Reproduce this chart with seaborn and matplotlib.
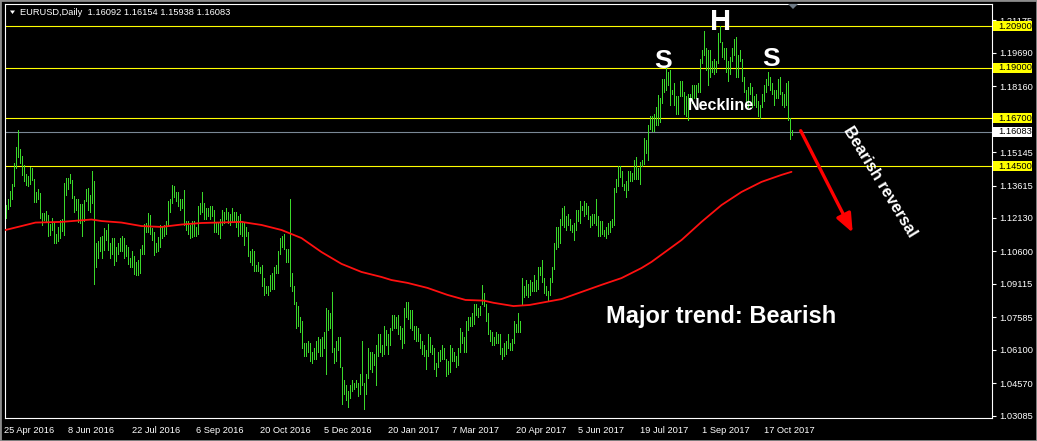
import numpy as np
import matplotlib
matplotlib.use('Agg')
import matplotlib.pyplot as plt
import matplotlib.transforms as mtransforms
from matplotlib.patches import Rectangle, Polygon
import seaborn as sns

# EURUSD daily bars, 25 Apr 2016 .. 30 Oct 2017, high / low in pips (11274 -> 1.1274)
hi_2016 = [
    11274, 11302, 11337, 11370, 11463,  # Apr
    11536, 11616, 11530, 11497, 11456, 11416, 11404, 11446, 11442, 11389, 11330, 11345, 11325, 11234, 11236,
    11245, 11227, 11186, 11215, 11192, 11140, 11173,  # May
    11205, 11208, 11374, 11395, 11394, 11416, 11388, 11313, 11300, 11298, 11279, 11275, 11297, 11347, 11350,
    11320, 11428, 11380, 11098, 11107, 11128, 11130,  # Jun
    11165, 11160, 11187, 11100, 11120, 11120, 11080, 11100, 11120, 11130, 11120, 11090, 11080, 11030, 11060,
    11040, 11010, 11020, 11070, 11090, 11185,  # Jul
    11190, 11235, 11225, 11165, 11150, 11100, 11125, 11180, 11170, 11180, 11200, 11290, 11300, 11366, 11360,
    11330, 11330, 11300, 11300, 11340, 11200, 11200, 11180,  # Aug
    11200, 11200, 11170, 11270, 11280, 11330, 11280, 11260, 11260, 11270, 11270, 11250, 11190, 11190, 11210,
    11250, 11240, 11260, 11240, 11230, 11260, 11240,  # Sep
    11240, 11220, 11230, 11200, 11190, 11170, 11150, 11060, 11070, 11060, 11000, 11010, 10990, 11000, 10940,
    10900, 10900, 10950, 10960, 10990, 11000,  # Oct
    11060, 11120, 11130, 11140, 11070, 11070, 11300, 10960, 10900, 10830, 10810, 10760, 10740, 10640, 10640,
    10650, 10640, 10600, 10620, 10650, 10670, 10660,  # Nov
    10670, 10690, 10800, 10790, 10780, 10874, 10620, 10650, 10670, 10670, 10530, 10470, 10450, 10420, 10450,
    10470, 10460, 10470, 10460, 10500, 10650,  # Dec
]
lo_2016 = [
    11212, 11255, 11267, 11300, 11358,
    11440, 11490, 11465, 11410, 11383, 11364, 11360, 11368, 11385, 11288, 11286, 11300, 11214, 11182, 11203,
    11198, 11130, 11136, 11157, 11099, 11100, 11109,
    11123, 11152, 11134, 11318, 11346, 11371, 11306, 11241, 11250, 11194, 11190, 11131, 11200, 11290, 11250,
    11241, 11280, 10912, 10988, 11030, 11060, 11030,
    11065, 11110, 11065, 11028, 11046, 10998, 11018, 11050, 11060, 11060, 11030, 11040, 11001, 10990, 10990,
    10955, 10950, 10950, 10960, 11050, 11050,
    11150, 11148, 11140, 11110, 11045, 11058, 11060, 11080, 11120, 11130, 11140, 11180, 11240, 11280, 11310,
    11290, 11270, 11250, 11260, 11180, 11160, 11140, 11120,
    11125, 11130, 11130, 11140, 11230, 11240, 11210, 11210, 11220, 11210, 11220, 11150, 11150, 11140, 11120,
    11180, 11190, 11210, 11190, 11180, 11200, 11200,
    11170, 11130, 11140, 11130, 11090, 11130, 11040, 11010, 11000, 10970, 10970, 10970, 10960, 10900, 10860,
    10870, 10860, 10880, 10890, 10890, 10960,
    10960, 11050, 11080, 11070, 11010, 11010, 10900, 10880, 10820, 10710, 10720, 10690, 10620, 10580, 10580,
    10600, 10560, 10550, 10570, 10570, 10600, 10580,
    10580, 10620, 10500, 10700, 10710, 10600, 10550, 10560, 10610, 10530, 10360, 10410, 10380, 10350, 10390,
    10420, 10430, 10440, 10400, 10410, 10450,
]
hi_2017 = [
    10460, 10500, 10620, 10600, 10600, 10590, 10630, 10680, 10680, 10630, 10720, 10700, 10680, 10710, 10770,
    10770, 10760, 10770, 10720, 10710, 10800,  # Jan
    10830, 10830, 10790, 10790, 10720, 10720, 10710, 10680, 10650, 10630, 10610, 10680, 10670, 10630, 10620,
    10550, 10600, 10610, 10630, 10620,  # Feb
    10570, 10560, 10630, 10620, 10600, 10580, 10620, 10710, 10690, 10670, 10740, 10760, 10760, 10780, 10820,
    10820, 10800, 10810, 10906, 10870, 10820, 10780, 10700,  # Mar
    10690, 10670, 10690, 10680, 10680, 10620, 10640, 10650, 10680, 10640, 10660, 10740, 10730, 10780, 10740,
    10940, 10900, 10930, 10910, 10930,  # Apr
    10920, 10950, 10930, 10990, 10990, 11020, 10940, 10900, 10880, 10940, 10990, 11100, 11170, 11170, 11210,
    11260, 11270, 11220, 11230, 11210, 11180, 11190, 11250,  # May
    11250, 11290, 11270, 11290, 11280, 11270, 11220, 11230, 11230, 11300, 11220, 11200, 11200, 11160, 11170,
    11190, 11200, 11210, 11350, 11390, 11450, 11450,  # Jun
    11430, 11370, 11380, 11430, 11430, 11420, 11480, 11490, 11440, 11470, 11480, 11580, 11570, 11640, 11680,
    11680, 11690, 11720, 11777, 11760, 11850,  # Jul
    11850, 11910, 11880, 11890, 11800, 11830, 11770, 11770, 11840, 11840, 11790, 11770, 11780, 11780, 11820,
    11820, 11820, 11830, 11940, 11980, 12070, 11990, 11980,  # Aug
    11980, 11930, 11940, 11930, 12060, 12092, 12020, 11990, 11990, 11930, 11950, 11990, 12030, 12040, 11960,
    11980, 11940, 11860, 11800, 11810, 11830,  # Sep
    11810, 11770, 11780, 11750, 11730, 11780, 11820, 11850, 11880, 11860, 11830, 11800, 11800, 11850, 11860,
    11790, 11780, 11830, 11840, 11670, 11615,  # Oct
]
lo_2017 = [
    10340, 10410, 10480, 10520, 10510, 10540, 10450, 10580, 10600, 10580, 10590, 10630, 10590, 10630, 10700,
    10710, 10710, 10680, 10660, 10620, 10640,
    10760, 10750, 10710, 10700, 10660, 10650, 10650, 10620, 10590, 10580, 10520, 10580, 10600, 10590, 10520,
    10490, 10530, 10560, 10570, 10570,
    10490, 10500, 10510, 10560, 10560, 10530, 10540, 10600, 10640, 10600, 10600, 10700, 10720, 10720, 10730,
    10770, 10760, 10770, 10820, 10810, 10740, 10680, 10650,
    10630, 10630, 10640, 10640, 10590, 10570, 10580, 10590, 10620, 10610, 10610, 10640, 10690, 10690, 10690,
    10820, 10850, 10860, 10850, 10860,
    10880, 10880, 10880, 10890, 10950, 10920, 10870, 10860, 10840, 10860, 10920, 10980, 11070, 11080, 11100,
    11180, 11170, 11160, 11180, 11160, 11150, 11110, 11160,
    11200, 11190, 11250, 11220, 11230, 11210, 11170, 11180, 11190, 11180, 11130, 11130, 11140, 11130, 11120,
    11140, 11150, 11170, 11180, 11330, 11360, 11400,
    11360, 11340, 11310, 11340, 11380, 11380, 11390, 11390, 11390, 11370, 11450, 11460, 11510, 11480, 11620,
    11610, 11610, 11640, 11640, 11650, 11740,
    11790, 11800, 11820, 11730, 11780, 11730, 11690, 11690, 11770, 11770, 11690, 11680, 11660, 11730, 11740,
    11760, 11760, 11790, 11790, 11920, 11960, 11890, 11820,
    11860, 11880, 11870, 11880, 11920, 12020, 11950, 11940, 11880, 11840, 11870, 11930, 11960, 11860, 11860,
    11930, 11840, 11790, 11720, 11720, 11780,
    11720, 11730, 11720, 11680, 11670, 11720, 11750, 11790, 11820, 11800, 11780, 11730, 11760, 11760, 11780,
    11730, 11720, 11730, 11660, 11575, 11594,
]

# red moving average, read at some bars
ma_idx = [0, 8, 15, 28, 43, 48, 58, 68, 78, 88, 98, 118, 128, 138, 148, 158, 168, 178, 188, 193, 201,
          211, 221, 230, 239, 244, 254, 262, 278, 298, 308, 318, 323, 338, 348, 358, 368, 378, 388, 393]
ma_val = [11158, 11176, 11192, 11195, 11206, 11199, 11192, 11176, 11172, 11183, 11190, 11195, 11181, 11158,
          11121, 11057, 11003, 10966, 10943, 10929, 10916, 10893, 10861, 10838, 10835, 10825, 10810, 10815,
          10842, 10907, 10938, 10984, 11012, 11112, 11195, 11272, 11332, 11378, 11410, 11424]

levels = [1.20900, 1.19000, 1.16700, 1.14500]
last_price = 1.16083
price_ticks = [1.21175, 1.19690, 1.18160, 1.16650, 1.15145, 1.13615, 1.12130, 1.10600,
               1.09115, 1.07585, 1.06100, 1.04570, 1.03085]
date_pos = [0, 32, 64, 96, 128, 160, 192, 224, 256, 287, 318, 349, 380]
date_labels = ['25 Apr 2016', '8 Jun 2016', '22 Jul 2016', '6 Sep 2016', '20 Oct 2016', '5 Dec 2016',
               '20 Jan 2017', '7 Mar 2017', '20 Apr 2017', '5 Jun 2017', '19 Jul 2017', '1 Sep 2017',
               '17 Oct 2017']

high = np.array(hi_2016 + hi_2017) / 10000
low = np.array(lo_2016 + lo_2017) / 10000
idx = np.arange(len(high))
ma = np.array(ma_val) / 10000

sns.set_theme(style='dark')
plt.rcParams['font.family'] = ['Liberation Sans', 'DejaVu Sans']
W, H = 1037, 441
fig = plt.figure(figsize=(W / 100, H / 100), dpi=100, facecolor='black')
ax = fig.add_axes([5 / W, 1 - 418 / H, 987 / W, 414 / H])
ax.set_facecolor('black')

bar_col = '#3ad82a'
ax.vlines(idx, low, high, colors=bar_col, lw=0.68, antialiased=False, zorder=3)
sns.lineplot(x=ma_idx, y=ma, color='#ff1010', lw=1.3, ax=ax, zorder=4)

for lv in levels:
    ax.axhline(lv, color='#ffff00', lw=0.8, zorder=2)
ax.axhline(last_price, color='#7a8896', lw=0.8, zorder=2)

ax.set_xlim(-0.25, 493.25)
ax.set_ylim(1.029797, 1.219177)

for s in ax.spines.values():
    s.set_color('white')
    s.set_linewidth(0.8)

ax.yaxis.tick_right()
ax.set_yticks(price_ticks)
# the 1.16650 label sits fully under the 1.16700 level box
ax.set_yticklabels(['' if v == 1.16650 else f'{v:.5f}' for v in price_ticks])
ax.set_xticks(date_pos)
ax.set_xticklabels(date_labels, ha='left')
ax.tick_params(axis='both', colors='white', labelcolor='white', labelsize=6.7, length=3, width=0.8,
               direction='out')
ax.tick_params(axis='y', pad=2.5)
ax.tick_params(axis='x', pad=1.5, length=4)
for lab in ax.get_xticklabels():
    lab.set_transform(lab.get_transform() + mtransforms.ScaledTranslation(-1 / 100, 0, fig.dpi_scale_trans))
ax.grid(False)
ax.set_xlabel('')
ax.set_ylabel('')

# price boxes on the right scale
bt = mtransforms.blended_transform_factory(fig.transFigure, ax.transData)
half = 5 * 0.00045744
for lv, fc in [(l, '#ffff00') for l in levels] + [(last_price, 'white')]:
    ax.add_patch(Rectangle((993 / W, lv - half), 39 / W, 2 * half, transform=bt, facecolor=fc,
                           edgecolor='none', clip_on=False, zorder=10))
    ax.text(998 / W, lv, f'{lv:.5f}', transform=bt, color='black', fontsize=6.7, va='center', ha='left',
            clip_on=False, zorder=11)

# header
fig.text(20 / W, 1 - 12.5 / H, 'EURUSD,Daily  1.16092 1.16154 1.15938 1.16083', color='white',
         fontsize=6.7, va='center', ha='left')
fig.patches.append(Polygon([[10 / W, 1 - 10.5 / H], [15 / W, 1 - 10.5 / H], [12.5 / W, 1 - 14 / H]],
                           closed=True, transform=fig.transFigure, facecolor='white', edgecolor='none'))
fig.patches.append(Polygon([[788 / W, 1 - 4 / H], [798 / W, 1 - 4 / H], [793 / W, 1 - 9 / H]],
                           closed=True, transform=fig.transFigure, facecolor='#6e7a86', edgecolor='none'))

# annotations (Arial-like bold)
bold = ['Liberation Sans', 'DejaVu Sans']
fig.text(663 / W, 1 - 68.5 / H, 'S', color='white', fontsize=19, fontweight='bold', family=bold,
         ha='center', va='baseline')
fig.text(720.5 / W, 1 - 30.5 / H, 'H', color='white', fontsize=21, fontweight='bold', family=bold,
         ha='center', va='baseline')
fig.text(771 / W, 1 - 65.5 / H, 'S', color='white', fontsize=19, fontweight='bold', family=bold,
         ha='center', va='baseline')
fig.text(721 / W, 1 - 110 / H, 'Neckline', color='white', fontsize=11.5, fontweight='bold', family=bold,
         ha='center', va='baseline')
fig.text(721.5 / W, 1 - 323 / H, 'Major trend: Bearish', color='white', fontsize=17, fontweight='bold',
         family=bold, ha='center', va='baseline')
fig.text(880 / W, 1 - 182 / H, 'Bearish reversal', color='white', fontsize=11.8, fontweight='bold',
         family=bold, ha='center', va='center', rotation=-58.6, rotation_mode='anchor')
ax.annotate('', xy=(852.7 / W, 1 - 232.7 / H), xytext=(800.7 / W, 1 - 130.7 / H),
            xycoords='figure fraction', textcoords='figure fraction',
            arrowprops=dict(arrowstyle='-|>,head_length=0.8,head_width=0.33', color='#ff0000', lw=2.4,
                            mutation_scale=14, shrinkA=0, shrinkB=0))

# window frame
fig.patches.append(Rectangle((0, 0), 1, 1, transform=fig.transFigure, fill=False, edgecolor='#8c8c8c',
                             lw=2.0))

fig.savefig('out.png', dpi=100, facecolor='black')
